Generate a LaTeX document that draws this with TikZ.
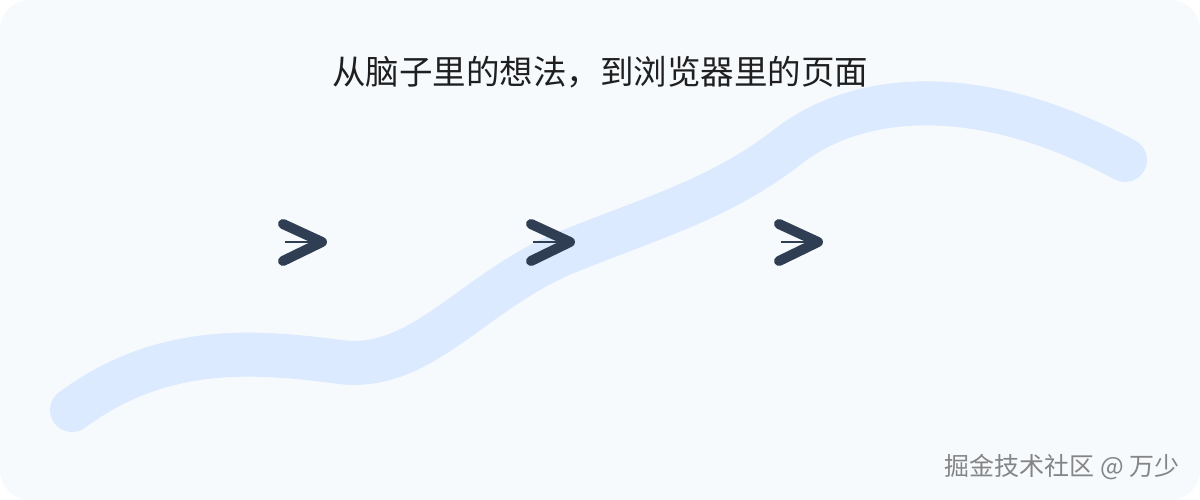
\documentclass[tikz,border=0pt]{standalone}
\usepackage{fontspec}
\setmainfont{Noto Sans CJK SC}
\usetikzlibrary{calc}
\definecolor{bgpage}{HTML}{F7FAFD}
\definecolor{wave}{HTML}{DBEAFE}
\definecolor{chev}{HTML}{2F3E53}
\definecolor{mark}{HTML}{858585}
\tikzset{chevline/.style={chev, line width=10pt, line cap=round, line join=round}}
\begin{document}
\begin{tikzpicture}[x=1pt,y=-1pt]
\useasboundingbox (0,0) rectangle (1200,500);
\fill[white] (0,0) rectangle (1200,500);
\fill[bgpage, rounded corners=30pt] (0,0) rectangle (1200,500);
% the wave
\draw[wave, line width=44pt, line cap=round] (72,410)
  .. controls (160,345) and (250,350) .. (340,362)
  .. controls (420,372) and (470,295) .. (560,255)
  .. controls (650,218) and (720,200) .. (790,145)
  .. controls (860,92) and (980,82) .. (1125,160);
\node[font=\fontsize{33.5}{40}\selectfont, text=black!88] (title) at (600,72) {从脑子里的想法，到浏览器里的页面};
% the three steps
\foreach \x in {302,550,798} {
 \draw[chev, line width=2pt] (\x-17,242) -- (\x+16,242);
 \draw[chevline] (\x-19,224) -- (\x+20,242) -- (\x-19,261);
}
\node[font=\fontsize{25}{30}\selectfont, text=mark, anchor=east] (credit) at (1183,467) {掘金技术社区 @ 万少};
\end{tikzpicture}
\end{document}
